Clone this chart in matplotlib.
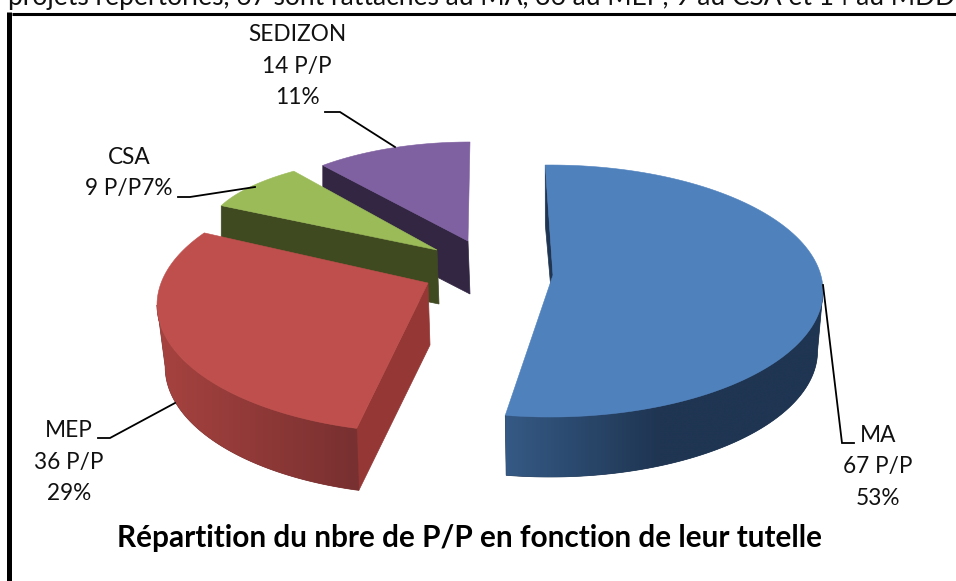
import numpy as np
from matplotlib import pyplot as plt
from matplotlib.colors import to_rgb
from matplotlib.patches import Polygon

tutelles = ["MA", "MEP", "CSA", "SEDIZON"]
nb_projets = [67, 36, 9, 14]
pourcentages = [53, 29, 7, 11]
titre = "Répartition du nbre de P/P en fonction de leur tutelle"
texte_haut = "projets répertoriés, 67 sont rattachés au MA, 36 au MEP, 9 au CSA et 14 au MDDI."

plt.rcParams['font.family'] = ['Lato', 'DejaVu Sans']

# geometrie de chaque part, en pixels de l'image
# cx, cy, rx, ry : ellipse du bord / ax, ay : sommet / prof : epaisseur
# d0, d1 : correction de perspective des angles, echelle : retrecissement du bas
parts = {
    "MA": dict(cx=550, cy=291, rx=273, ry=126, ax=553, ay=275, prof=60, d0=-1, d1=-2, echelle=0.98,
               face="#4F81BD", paroi="#1F3552", clair="#355A85", sombre="#1F3552",
               x_clair=505, x_sombre=660, arc=(90, None)),
    "MEP": dict(cx=429, cy=305, rx=272, ry=128, ax=428, ay=283, prof=62, d0=4, d1=10, echelle=0.97,
                face="#BE4F4C", paroi="#953735", clair="#A5423F", sombre="#783030",
                x_clair=165, x_sombre=357, arc=(None, 270)),
    "CSA": dict(cx=437, cy=233, rx=230, ry=79, ax=437, ay=250, prof=54, d0=-4, d1=1.5, echelle=1,
                face="#9BBB59", paroi="#404A21"),
    "SEDIZON": dict(cx=470, cy=242, rx=229, ry=100, ax=468, ay=241, prof=53, d0=0, d1=0, echelle=1,
                    face="#7F60A0", paroi="#322643"),
}

# position du texte de chaque etiquette et trace de son trait de rappel
etiquettes = {
    "MA": dict(x=878, y=467, ligne=[(823, 285), (842, 443), (854, 443)]),
    "MEP": dict(x=69, y=462, ligne=[(175, 403), (110, 438), (98, 438)]),
    "CSA": dict(x=129, y=173, ligne=[(255, 187), (190, 197), (178, 197)]),
    "SEDIZON": dict(x=297, y=66, ligne=[(395, 147), (340, 112), (325, 112)]),
}


def bord(p, theta, dy=0, echelle=1):
    t = np.radians(theta)
    x = p["cx"] + echelle * p["rx"] * np.sin(t)
    y = p["cy"] - p["ry"] * np.cos(t) + dy
    return x, y


fig = plt.figure(figsize=(9.56, 5.81), dpi=100)
ax = fig.add_axes([0, 0, 1, 1])

# angles cumules a partir des valeurs
total = sum(nb_projets)
bornes = np.concatenate([[0], np.cumsum(nb_projets)]) / total * 360

# on dessine du fond vers l'avant
for nom in ["SEDIZON", "CSA", "MEP", "MA"]:
    i = tutelles.index(nom)
    p = parts[nom]
    z = 5 - i
    a0 = bornes[i] + p["d0"]
    a1 = bornes[i + 1] + p["d1"]

    # paroi radiale
    xc, yc = bord(p, a0)
    xb, yb = bord(p, a0, p["prof"], p["echelle"])
    ax.fill([xc, xb, p["ax"] + 2, p["ax"]], [yc, yb, p["ay"] + p["prof"], p["ay"]],
            color=p["paroi"], lw=0.5, zorder=z)

    # paroi exterieure en degrade
    if "arc" in p:
        debut = a0 if p["arc"][0] is None else p["arc"][0]
        fin = a1 if p["arc"][1] is None else p["arc"][1]
        th = np.linspace(debut, fin, 150)
        xh, yh = bord(p, th)
        xs, ys = bord(p, th, p["prof"], p["echelle"])
        contour = np.c_[np.r_[xh, xs[::-1]], np.r_[yh, ys[::-1]]]
        ax.fill(contour[:, 0], contour[:, 1], color=p["sombre"], lw=0.5, zorder=z)
        x_grad = np.arange(contour[:, 0].min() - 2, contour[:, 0].max() + 2)
        u = np.clip((x_grad - p["x_clair"]) / (p["x_sombre"] - p["x_clair"]), 0, 1)[None, :, None]
        rgb = np.array(to_rgb(p["clair"]))[None, None, :] * (1 - u) + np.array(to_rgb(p["sombre"]))[None, None, :] * u
        im = ax.imshow(rgb, extent=[x_grad[0], x_grad[-1], contour[:, 1].max(), contour[:, 1].min()],
                       aspect="auto", zorder=z, interpolation="bilinear")
        im.set_clip_path(Polygon(contour, transform=ax.transData))

    # face du dessus
    th = np.linspace(a0, a1, 120)
    xf, yf = bord(p, th)
    ax.fill(np.r_[p["ax"], xf], np.r_[p["ay"], yf], color=p["face"], lw=0.4, zorder=z + 0.5)

ax.set_xlim(0, 956)
ax.set_ylim(581, 0)
ax.axis("off")

# etiquettes
for nom, n, pct in zip(tutelles, nb_projets, pourcentages):
    e = etiquettes[nom]
    if nom == "CSA":
        texte = f"{nom}\n{n} P/P{pct}%"
    else:
        texte = f"{nom}\n{n} P/P\n{pct}%"
    ax.text(e["x"], e["y"], texte, ha="center", va="center", fontsize=16.3, linespacing=1.62, color="#111111", zorder=10)
    xl, yl = zip(*e["ligne"])
    ax.plot(xl, yl, color="black", lw=1.3, zorder=10, solid_joinstyle="miter")

ax.text(470, 538, titre, ha="center", va="center", fontsize=21.4, fontweight="bold", color="black", zorder=10)
ax.text(8, 5, texte_haut, ha="left", va="baseline", fontsize=19, color="#111111", zorder=10)

# cadre noir
ax.plot([12, 956], [13.5, 13.5], color="black", lw=2.2, zorder=11, solid_capstyle="butt")
ax.plot([9.5, 9.5], [12, 581], color="black", lw=3.6, zorder=11, solid_capstyle="butt")

plt.savefig("out.png", dpi=100)
